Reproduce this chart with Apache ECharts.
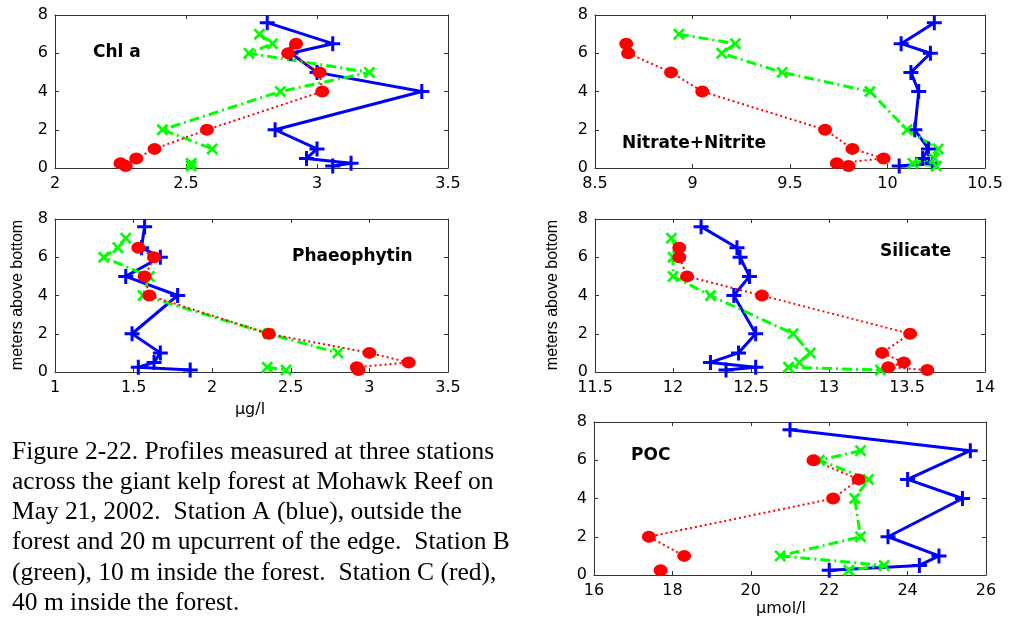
<!DOCTYPE html>
<html>
<head>
<meta charset="utf-8">
<script src="https://cdn.jsdelivr.net/npm/echarts@6/dist/echarts.min.js"></script>
<style>
  html, body { margin: 0; padding: 0; background: #fff; }
  #chart { width: 1010px; height: 623px; }
</style>
</head>
<body>
<div id="chart"></div>
<script>
// ---- Data ----
// depths (meters above bottom) for stations A (blue), B (green), C (red)
const depthA = [7.6, 6.5, 6, 5, 4, 2, 1, 0.5, 0.25, 0.1];
const depthB = [7, 6.5, 6, 5, 4, 2, 1, 0.5, 0.25, 0.1];
const depthC = [6.5, 6, 5, 4, 2, 1, 0.5, 0.25, 0.1];

// Chl a (ug/l)
const chlA = [2.81, 3.06, 2.90, 3.00, 3.40, 2.84, 3.00, 2.96, 3.13, 3.06];
const chlB = [2.78, 2.83, 2.74, 3.20, 2.86, 2.41, 2.60, null, 2.52, 2.52];
const chlC = [2.92, 2.89, 3.01, 3.02, 2.58, 2.38, 2.31, 2.25, 2.27];

// Nitrate+Nitrite (umol/l)
const nitA = [10.24, 10.07, 10.22, 10.12, 10.16, 10.14, 10.21, 10.18, 10.23, 10.06];
const nitB = [8.93, 9.22, 9.15, 9.46, 9.91, 10.10, 10.26, 10.24, 10.13, 10.25];
const nitC = [8.66, 8.67, 8.89, 9.05, 9.68, 9.82, 9.98, 9.74, 9.80];

// Phaeophytin (ug/l)
const phaA = [1.57, 1.55, 1.67, 1.45, 1.78, 1.49, 1.67, 1.63, 1.53, 1.86];
const phaB = [1.45, 1.40, 1.31, 1.60, 1.56, 2.36, 2.80, null, 2.35, 2.47];
const phaC = [1.53, 1.63, 1.57, 1.60, 2.36, 3.00, 3.25, 2.92, 2.93];

// Silicate (umol/l)
const silA = [12.18, 12.41, 12.43, 12.49, 12.39, 12.53, 12.42, 12.24, 12.53, 12.34];
const silB = [11.99, 12.03, 12.00, 12.00, 12.24, 12.77, 12.88, 12.81, 12.74, 13.33];
const silC = [12.04, 12.04, 12.09, 12.57, 13.52, 13.34, 13.48, 13.38, 13.63];

// POC (umol/l)
const pocDepthA = [7.6, 6.5, 5, 4, 2, 1, 0.5, 0.25];
const pocDepthB = [6.5, 6, 5, 4, 2, 1, 0.5, 0.25];
const pocDepthC = [6, 5, 4, 2, 1, 0.5, 0.25];
const pocA = [21.0, 25.6, 24.0, 25.4, 23.5, 24.8, 24.3, 22.0];
const pocB = [22.8, 21.75, 23.0, 22.65, 22.8, 20.75, 23.4, 22.5];
const pocC = [21.6, 22.75, 22.1, 17.4, 18.3, null, 17.7];

// axis ranges / tick labels
const xRanges = [[2, 3.5, 0.5], [8.5, 10.5, 0.5], [1, 3.5, 0.5], [11.5, 14, 0.5], [16, 26, 2]];
const yRange = [0, 8, 2];
const panelTitles = ['Chl a', 'Nitrate+Nitrite', 'Phaeophytin', 'Silicate', 'POC'];
const yTitle = 'meters above bottom';
const xTitles = ['μg/l', 'μmol/l'];
const caption = 'Figure 2-22. Profiles measured at three stations\nacross the giant kelp forest at Mohawk Reef on\nMay 21, 2002.  Station A (blue), outside the\nforest and 20 m upcurrent of the edge.  Station B\n(green), 10 m inside the forest.  Station C (red),\n40 m inside the forest.';

// ---- Layout ----
const grids = [
  { left: 55, top: 15, width: 393, height: 153 },
  { left: 595, top: 15, width: 390, height: 153 },
  { left: 55, top: 219, width: 393, height: 153 },
  { left: 595, top: 219, width: 390, height: 153 },
  { left: 594, top: 422, width: 392, height: 153 }
];

const tickFont = { fontFamily: 'DejaVu Sans', fontSize: 16, color: '#000' };
const axisLineStyle = { color: '#333', width: 1 };

const xAxes = [], yAxes = [];
grids.forEach((g, i) => {
  const [mn, mx, iv] = xRanges[i];
  xAxes.push({
    type: 'value', gridIndex: i, min: mn, max: mx, interval: iv, position: 'bottom',
    axisLine: { show: true, onZero: false, lineStyle: axisLineStyle },
    axisTick: { show: true, inside: true, length: 4, lineStyle: axisLineStyle },
    axisLabel: Object.assign({ margin: 8 }, tickFont),
    splitLine: { show: false }
  });
  xAxes.push({
    type: 'value', gridIndex: i, min: mn, max: mx, interval: iv, position: 'top',
    axisLine: { show: true, onZero: false, lineStyle: axisLineStyle },
    axisTick: { show: true, inside: true, length: 4, lineStyle: axisLineStyle },
    axisLabel: { show: false }, splitLine: { show: false }
  });
  yAxes.push({
    type: 'value', gridIndex: i, min: yRange[0], max: yRange[1], interval: yRange[2], position: 'left',
    axisLine: { show: true, onZero: false, lineStyle: axisLineStyle },
    axisTick: { show: true, inside: true, length: 4, lineStyle: axisLineStyle },
    axisLabel: Object.assign({ margin: 7 }, tickFont),
    splitLine: { show: false }
  });
  yAxes.push({
    type: 'value', gridIndex: i, min: yRange[0], max: yRange[1], interval: yRange[2], position: 'right',
    axisLine: { show: true, onZero: false, lineStyle: axisLineStyle },
    axisTick: { show: true, inside: true, length: 4, lineStyle: axisLineStyle },
    axisLabel: { show: false }, splitLine: { show: false }
  });
});

const plusPath = 'path://M4,0 L6,0 L6,4 L10,4 L10,6 L6,6 L6,10 L4,10 L4,6 L0,6 L0,4 L4,4 Z';
const crossPath = 'path://M0,1.6 L1.6,0 L5,3.4 L8.4,0 L10,1.6 L6.6,5 L10,8.4 L8.4,10 L5,6.6 L1.6,10 L0,8.4 L3.4,5 Z';

const styles = {
  A: { color: '#0000ff', lineStyle: { color: '#0000ff', width: 3, type: 'solid' }, symbol: plusPath, symbolSize: 15 },
  B: { color: '#00ff00', lineStyle: { color: '#00ff00', width: 3, type: [10, 4, 2, 4] }, symbol: crossPath, symbolSize: 12 },
  C: { color: '#ff0000', lineStyle: { color: '#ff0000', width: 2, type: [2, 3] }, symbol: 'circle', symbolSize: [14, 12] }
};

function mk(gi, xs, ys, key) {
  const s = styles[key];
  return {
    type: 'line', xAxisIndex: 2 * gi, yAxisIndex: 2 * gi,
    data: xs.map((v, k) => (v === null ? ['-', ys[k]] : [v, ys[k]])),
    connectNulls: false, showAllSymbol: true, animation: false, silent: true,
    symbol: s.symbol, symbolSize: s.symbolSize,
    itemStyle: { color: s.color, borderWidth: 0 },
    lineStyle: s.lineStyle
  };
}

const series = [
  mk(0, chlA, depthA, 'A'), mk(0, chlB, depthB, 'B'), mk(0, chlC, depthC, 'C'),
  mk(1, nitA, depthA, 'A'), mk(1, nitB, depthB, 'B'), mk(1, nitC, depthC, 'C'),
  mk(2, phaA, depthA, 'A'), mk(2, phaB, depthB, 'B'), mk(2, phaC, depthC, 'C'),
  mk(3, silA, depthA, 'A'), mk(3, silB, depthB, 'B'), mk(3, silC, depthC, 'C'),
  mk(4, pocA, pocDepthA, 'A'), mk(4, pocB, pocDepthB, 'B'), mk(4, pocC, pocDepthC, 'C')
];

const titleFont = { fontFamily: 'DejaVu Sans', fontWeight: 'bold', fontSize: 17, fill: '#000' };
const titlePos = [[93, 53], [622, 144], [292, 257], [880, 252], [631, 456]];

const graphic = [];
panelTitles.forEach((t, i) => {
  graphic.push({
    type: 'text', x: titlePos[i][0], y: titlePos[i][1],
    style: Object.assign({ text: t, align: 'left', verticalAlign: 'middle' }, titleFont), silent: true
  });
});
// y-axis titles (rotated)
[[18, 295], [553, 295]].forEach(p => {
  graphic.push({
    type: 'text', x: p[0], y: p[1], rotation: Math.PI / 2,
    style: { text: yTitle, fontFamily: 'Liberation Sans', fontSize: 16, fill: '#000', align: 'center', verticalAlign: 'middle' },
    silent: true
  });
});
// x-axis titles
graphic.push({ type: 'text', x: 250, y: 410, style: { text: xTitles[0], fontFamily: 'DejaVu Sans', fontSize: 16, fill: '#000', align: 'center', verticalAlign: 'middle' }, silent: true });
graphic.push({ type: 'text', x: 781, y: 609, style: { text: xTitles[1], fontFamily: 'DejaVu Sans', fontSize: 16, fill: '#000', align: 'center', verticalAlign: 'middle' }, silent: true });
// caption
graphic.push({
  type: 'text', x: 12, y: 437,
  style: { text: caption, fontFamily: 'Liberation Serif', fontSize: 25.5, lineHeight: 30.2, fill: '#000', align: 'left', verticalAlign: 'top' },
  silent: true
});

const chart = echarts.init(document.getElementById('chart'), null, { renderer: 'canvas' });
chart.setOption({
  animation: false,
  backgroundColor: '#fff',
  grid: grids.map(g => Object.assign({ containLabel: false, show: false }, g)),
  xAxis: xAxes,
  yAxis: yAxes,
  series: series,
  graphic: graphic
});
</script>
</body>
</html>
